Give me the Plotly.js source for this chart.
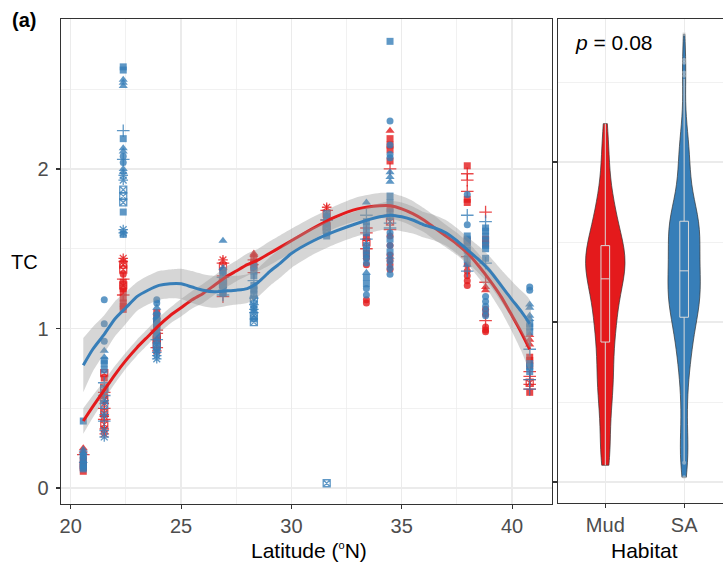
<!DOCTYPE html>
<html>
<head>
<meta charset="utf-8">
<script src="https://cdn.plot.ly/plotly-3.0.1.min.js"></script>
<style>html,body{margin:0;padding:0;background:#fff;}#chart{width:723px;height:569px;}</style>
</head>
<body>
<div id="chart"></div>
<script>
// ---------------- DATA ----------------
const siteLat = [20.57, 21.52, 22.38, 23.9, 26.9, 28.3, 31.6, 33.4, 34.47, 37.97, 38.8, 40.8];

// TC values per site (Mud habitat)
const mudTC = [
  [0.25, 0.23, 0.21, 0.19, 0.17, 0.15, 0.14, 0.13, 0.105],
  [0.72, 0.69, 0.63, 0.60, 0.58, 0.56, 0.53, 0.50, 0.47, 0.45, 0.43, 0.40, 0.37, 0.34],
  [1.44, 1.42, 1.40, 1.37, 1.34, 1.31, 1.29, 1.27, 1.25, 1.23, 1.21, 1.19, 1.16, 1.14, 1.12],
  [1.10, 1.06, 1.03, 1.01, 0.99, 0.97, 0.95, 0.93, 0.90, 0.88, 0.86],
  [1.43, 1.41, 1.39, 1.36, 1.33, 1.30, 1.27, 1.22, 1.20],
  [1.47, 1.46, 1.44, 1.43, 1.41, 1.40, 1.38, 1.35],
  [1.76, 1.74, 1.72, 1.70, 1.68, 1.66, 1.64],
  [1.63, 1.60, 1.57, 1.54, 1.50, 1.47, 1.44, 1.40, 1.18, 1.16],
  [2.24, 2.19, 2.15, 2.12, 2.05, 2.00, 1.75, 1.71, 1.67, 1.62, 1.58, 1.52, 1.46, 1.43, 1.40, 1.37],
  [2.02, 1.97, 1.93, 1.86, 1.81, 1.79, 1.55, 1.45, 1.40, 1.36, 1.33, 1.30, 1.27],
  [1.73, 1.56, 1.53, 1.29, 1.26, 1.24, 1.12, 1.09, 1.05, 1.01, 0.99, 0.98],
  [0.96, 0.93, 0.90, 0.82, 0.80, 0.77, 0.73, 0.70, 0.68, 0.66, 0.65, 0.62, 0.60]
];
// point shape category per value (o circle, t triangle, s square, p plus, x boxed cross, a asterisk)
const mudShape = [
  't t p o s s s s s',
  'x s x p s x a p x a p x a a',
  'a a x x o p s x s s p s s s s',
  's s s s p p x x x p a',
  'a p x s p x s s p',
  't t s p s a s p',
  'a p x s p s x',
  'p p s x p s o o o o',
  't s s s s p s p x p o o o o o o',
  's p p p s s s p o o o o o',
  'p s s p t t o o p o o o',
  't t t s s s p p p x p p s'
];

// TC values per site (SA habitat)
const saTC = [
  [0.42, 0.24, 0.22, 0.21, 0.20, 0.18, 0.17, 0.15, 0.14, 0.13, 0.12],
  [1.18, 1.03, 0.92, 0.86, 0.82, 0.80, 0.78, 0.74, 0.66, 0.62, 0.58, 0.55, 0.52, 0.46, 0.42, 0.36, 0.32],
  [2.64, 2.62, 2.56, 2.54, 2.52, 2.24, 2.19, 2.13, 2.11, 2.08, 2.06, 2.04, 2.00, 1.98, 1.96, 1.93, 1.87, 1.83, 1.79, 1.73, 1.62, 1.60, 1.59],
  [1.18, 1.16, 1.13, 1.10, 1.08, 1.07, 1.05, 1.04, 1.02, 0.99, 0.97, 0.95, 0.93, 0.91, 0.89, 0.87, 0.85, 0.83, 0.81],
  [1.55, 1.38, 1.36, 1.34, 1.32, 1.30, 1.28, 1.27, 1.25, 1.24, 1.22, 1.21],
  [1.39, 1.36, 1.33, 1.30, 1.27, 1.25, 1.24, 1.21, 1.19, 1.18, 1.15, 1.13, 1.12, 1.10, 1.08, 1.06, 1.04],
  [1.72, 1.70, 1.68, 1.66, 1.64, 1.62, 1.60, 1.58, 0.03],
  [1.79, 1.71, 1.67, 1.64, 1.60, 1.56, 1.52, 1.49, 1.46, 1.44, 1.41, 1.35, 1.32, 1.28, 1.25, 1.21],
  [2.80, 2.30, 2.15, 2.09, 2.07, 1.98, 1.95, 1.92, 1.83, 1.79, 1.73, 1.70, 1.66, 1.63, 1.60, 1.56, 1.52, 1.48, 1.45, 1.42, 1.38, 1.34],
  [1.84, 1.71, 1.65, 1.58, 1.56, 1.54, 1.51, 1.49, 1.46, 1.43, 1.40, 1.36],
  [1.67, 1.63, 1.61, 1.58, 1.55, 1.52, 1.50, 1.44, 1.41, 1.20, 1.17, 1.14, 1.11, 1.08],
  [1.26, 1.24, 1.15, 1.13, 1.08, 1.06, 1.03, 1.01, 0.98, 0.87, 0.78, 0.76, 0.73, 0.68, 0.62]
];
const saShape = [
  's t t o s s t s s s s',
  'o o o t t s s s p x p a x a p a a',
  's s t t t p s t t o p o t t a a x x x s a a s',
  'o o t t s t s s s s o s p s x s a a a',
  't t s s p s x s s a s p',
  's s s p s s s s a x a s a a x s x',
  's s p s s x s s x',
  't p s s s p s s o o o t s s o o',
  's o o o o t t t s s s s p p o s o s t o o o',
  'o p o s s s s s t s t p',
  'p s s s s s s s p o o o o o',
  'o o t t t t s s s p s s s p p'
];

// LOESS fits (latitude grid, fitted TC, half-width of 95% band)
const fitLat = [20.57, 21.0, 21.5, 22.0, 22.5, 23.0, 23.5, 24.0, 24.5, 25.0, 25.5, 26.0, 26.5, 27.0, 27.5, 28.0, 28.5, 29.0, 29.5, 30.0, 31.0, 32.0, 33.0, 34.0, 34.5, 35.0, 35.5, 36.0, 36.5, 37.0, 37.5, 38.0, 38.5, 39.0, 39.5, 40.0, 40.4, 40.8];
const mudFit = [0.42, 0.51, 0.61, 0.71, 0.80, 0.88, 0.95, 1.02, 1.08, 1.13, 1.18, 1.22, 1.27, 1.32, 1.36, 1.40, 1.43, 1.47, 1.51, 1.55, 1.63, 1.70, 1.75, 1.77, 1.77, 1.75, 1.72, 1.68, 1.63, 1.58, 1.53, 1.47, 1.39, 1.30, 1.20, 1.08, 0.98, 0.87];
const mudSE  = [0.08, 0.07, 0.06, 0.055, 0.05, 0.05, 0.05, 0.05, 0.05, 0.055, 0.055, 0.06, 0.06, 0.065, 0.065, 0.07, 0.07, 0.075, 0.075, 0.075, 0.07, 0.07, 0.075, 0.08, 0.08, 0.08, 0.08, 0.075, 0.075, 0.07, 0.07, 0.07, 0.075, 0.08, 0.09, 0.10, 0.115, 0.13];
const saFit  = [0.77, 0.87, 0.96, 1.06, 1.13, 1.20, 1.24, 1.27, 1.28, 1.28, 1.26, 1.24, 1.23, 1.235, 1.24, 1.25, 1.29, 1.355, 1.41, 1.47, 1.55, 1.61, 1.66, 1.70, 1.71, 1.70, 1.68, 1.65, 1.63, 1.60, 1.55, 1.49, 1.43, 1.36, 1.27, 1.18, 1.11, 1.03];
const saSE   = [0.17, 0.14, 0.12, 0.11, 0.10, 0.09, 0.09, 0.09, 0.09, 0.095, 0.10, 0.10, 0.10, 0.095, 0.09, 0.09, 0.09, 0.09, 0.09, 0.09, 0.085, 0.08, 0.08, 0.085, 0.09, 0.09, 0.085, 0.08, 0.08, 0.08, 0.08, 0.08, 0.085, 0.09, 0.10, 0.115, 0.13, 0.15];

const habitats = ['Mud', 'SA'];
const pLabel = '<i>p</i> = 0.08';

// ---------------- STYLE ----------------
const RED = '#E41A1C', BLUE = '#377EB8';
const FONT = 'Liberation Sans, Arial, Helvetica, sans-serif';
const symMap  = {o: 'circle', t: 'triangle-up', s: 'square', p: 'cross-thin-open', x: 'square-x-open', a: 'asterisk-open'};
const sizeMap = {o: 7, t: 8, s: 7, p: 9, x: 7, a: 8};
const openMap = {o: false, t: false, s: false, p: true, x: true, a: true};

function flatten(tc, shp) {
  const x = [], y = [], sym = [], size = [], lw = [];
  tc.forEach((vals, i) => {
    const sh = shp[i].split(' ');
    vals.forEach((v, j) => {
      const k = sh[j] || 'o';
      x.push(siteLat[i]); y.push(v);
      sym.push(symMap[k]); size.push(sizeMap[k]); lw.push(openMap[k] ? 1.3 : 0);
    });
  });
  return {x, y, sym, size, lw};
}
function pointTrace(tc, shp, color) {
  const d = flatten(tc, shp);
  return {
    type: 'scatter', mode: 'markers', x: d.x, y: d.y, xaxis: 'x', yaxis: 'y',
    marker: {symbol: d.sym, size: d.size, color: color, opacity: 0.8,
             line: {width: d.lw, color: color}},
    showlegend: false, hoverinfo: 'x+y'
  };
}
function bandTrace(fit, se) {
  const up = fit.map((v, i) => v + se[i]);
  const lo = fit.map((v, i) => v - se[i]);
  return {
    type: 'scatter', mode: 'lines', xaxis: 'x', yaxis: 'y',
    x: fitLat.concat(fitLat.slice().reverse()),
    y: up.concat(lo.slice().reverse()),
    fill: 'toself', fillcolor: 'rgba(153,153,153,0.4)',
    line: {width: 0, shape: 'spline', smoothing: 0.6},
    showlegend: false, hoverinfo: 'skip'
  };
}
function lineTrace(fit, color) {
  return {
    type: 'scatter', mode: 'lines', x: fitLat, y: fit, xaxis: 'x', yaxis: 'y',
    line: {color: color, width: 3, shape: 'spline', smoothing: 0.6},
    showlegend: false, hoverinfo: 'skip'
  };
}
function quant(sorted, p) {
  const h = (sorted.length - 1) * p, lo = Math.floor(h);
  return sorted[lo] + (h - lo) * ((sorted[Math.min(lo + 1, sorted.length - 1)]) - sorted[lo]);
}
function nrd0(v) {
  const s = v.slice().sort((a, b) => a - b), n = s.length;
  const m = s.reduce((a, b) => a + b, 0) / n;
  const sd = Math.sqrt(s.reduce((a, b) => a + (b - m) * (b - m), 0) / (n - 1));
  const iqr = quant(s, 0.75) - quant(s, 0.25);
  return 0.9 * Math.min(sd, iqr / 1.34) * Math.pow(n, -0.2);
}
function violinTrace(tc, name, color, w) {
  const y = [].concat(...tc);
  return {
    type: 'violin', x: y.map(() => name), y: y, xaxis: 'x2', yaxis: 'y2', name: name,
    fillcolor: color, line: {color: '#333333', width: 0.7}, opacity: 1,
    spanmode: 'hard', bandwidth: nrd0(y), width: w,
    scalegroup: name, scalemode: 'width',
    points: 'outliers', pointpos: 0, jitter: 0,
    marker: {color: 'rgba(215,215,215,0.5)', size: 4, line: {width: 0}},
    box: {visible: true, width: 0.22 * 0.5 / w, fillcolor: 'rgba(0,0,0,0)', line: {color: '#D9D9D9', width: 1}},
    meanline: {visible: false}, quartilemethod: 'linear',
    showlegend: false, hoverinfo: 'y'
  };
}

const W = 723, H = 569;
const px = v => v / W, py = v => 1 - v / H;

const data = [
  pointTrace(mudTC, mudShape, RED),
  pointTrace(saTC, saShape, BLUE),
  bandTrace(mudFit, mudSE), lineTrace(mudFit, RED),
  bandTrace(saFit, saSE), lineTrace(saFit, BLUE),
  violinTrace(mudTC, habitats[0], RED, 0.5),
  violinTrace(saTC, habitats[1], BLUE, 0.41)
];

const axBase = {
  showline: true, linecolor: '#333333', linewidth: 1.3,
  ticks: 'outside', ticklen: 4, tickwidth: 1.1, tickcolor: '#333333',
  tickfont: {family: FONT, size: 20, color: '#4D4D4D'},
  showgrid: true, gridcolor: '#EBEBEB', gridwidth: 1.2, zeroline: false
};

const layout = {
  width: W, height: H, autosize: false,
  margin: {l: 0, r: 0, t: 0, b: 0, pad: 0},
  paper_bgcolor: '#ffffff', plot_bgcolor: '#ffffff',
  font: {family: FONT, color: '#000000'},
  violinmode: 'overlay',
  xaxis: Object.assign({}, axBase, {
    domain: [px(61), px(552)], range: [19.56, 41.81], anchor: 'y', mirror: true,
    tickmode: 'linear', tick0: 0, dtick: 5,
    minor: {tick0: 0, dtick: 2.5, showgrid: true, gridcolor: '#EBEBEB', gridwidth: 0.7, ticks: ''}
  }),
  yaxis: Object.assign({}, axBase, {
    domain: [py(504), py(19)], range: [-0.10, 2.94], anchor: 'x', mirror: true,
    tickmode: 'linear', tick0: 0, dtick: 1, ticklabelstandoff: 3,
    minor: {tick0: 0, dtick: 0.5, showgrid: true, gridcolor: '#EBEBEB', gridwidth: 0.7, ticks: ''}
  }),
  xaxis2: Object.assign({}, axBase, {
    domain: [px(558), 1], type: 'category', categoryorder: 'array', categoryarray: habitats,
    range: [-0.6, 1.493], anchor: 'y2', mirror: true
  }),
  yaxis2: Object.assign({}, axBase, {
    domain: [py(503), py(19)], range: [-0.131, 2.894], anchor: 'x2', mirror: false,
    tickmode: 'linear', tick0: 0, dtick: 1, showticklabels: false,
    minor: {tick0: 0, dtick: 0.5, showgrid: true, gridcolor: '#EBEBEB', gridwidth: 0.7, ticks: ''}
  }),
  annotations: [
    {text: '<b>(a)</b>', xref: 'paper', yref: 'paper', x: px(10), y: py(20), xanchor: 'left', yanchor: 'middle',
     showarrow: false, font: {family: FONT, size: 20, color: '#000'}},
    {text: pLabel, xref: 'paper', yref: 'paper', x: px(573), y: py(42), xanchor: 'left', yanchor: 'middle',
     showarrow: false, font: {family: FONT, size: 21, color: '#000'}},
    {text: 'TC', xref: 'paper', yref: 'paper', x: px(24), y: py(262), xanchor: 'center', yanchor: 'middle',
     showarrow: false, font: {family: FONT, size: 20, color: '#000'}},
    {text: 'Latitude (<sup><span style="font-size:11px">o</span></sup>N)', xref: 'paper', yref: 'paper', x: px(309), y: py(550), xanchor: 'center', yanchor: 'middle',
     showarrow: false, font: {family: FONT, size: 21, color: '#000'}},
    {text: 'Habitat', xref: 'paper', yref: 'paper', x: px(644), y: py(550), xanchor: 'center', yanchor: 'middle',
     showarrow: false, font: {family: FONT, size: 21, color: '#000'}}
  ]
};

Plotly.newPlot('chart', data, layout, {staticPlot: true, displayModeBar: false});
</script>
</body>
</html>
